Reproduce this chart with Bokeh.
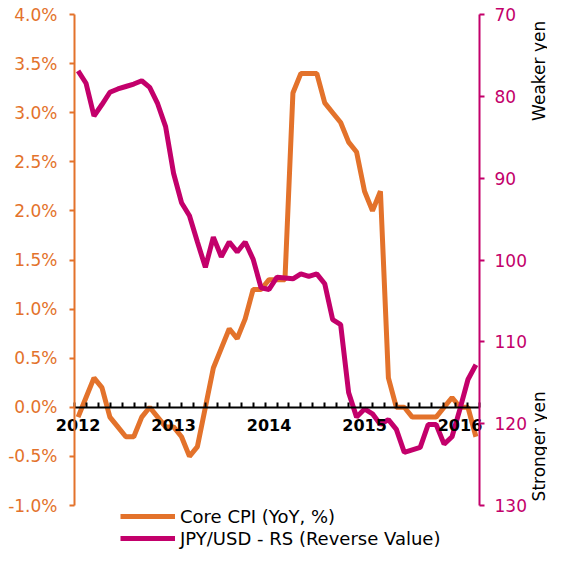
from math import pi
from bokeh.plotting import figure
from bokeh.models import (Range1d, LinearAxis, FixedTicker, PrintfTickFormatter,
                          Legend, LegendItem, Label)
from bokeh.embed import file_html
from bokeh.resources import INLINE

# ---- data (monthly, Jan 2012 .. Mar 2016) ----
months = [f"{y}-{m:02d}" for y in range(2012, 2017) for m in range(1, 13)][:51]
core_cpi = [-0.1, 0.1, 0.3, 0.2, -0.1, -0.2, -0.3, -0.3, -0.1, 0.0, -0.1, -0.2,
            -0.2, -0.3, -0.5, -0.4, 0.0, 0.4, 0.6, 0.8, 0.7, 0.9, 1.2, 1.2,
            1.3, 1.3, 1.3, 3.2, 3.4, 3.4, 3.4, 3.1, 3.0, 2.9, 2.7, 2.6,
            2.2, 2.0, 2.2, 0.3, 0.0, 0.0, -0.1, -0.1, -0.1, -0.1, 0.0, 0.1,
            0.0, 0.0, -0.3]
jpy_usd = [76.9, 78.4, 82.4, 81.0, 79.5, 79.1, 78.8, 78.5, 78.1, 78.9, 80.9, 83.7,
           89.4, 93.0, 94.6, 97.8, 100.9, 97.2, 99.6, 97.8, 99.0, 97.8, 99.9, 103.4,
           103.6, 102.1, 102.2, 102.3, 101.7, 102.0, 101.7, 102.9, 107.3, 107.9, 116.2, 119.2,
           118.2, 118.8, 120.1, 119.5, 120.7, 123.5, 123.2, 122.9, 120.1, 120.1, 122.5, 121.6,
           118.2, 114.6, 112.8]
year_labels = ["2012", "2013", "2014", "2015", "2016"]
cpi_ticks = [4.0, 3.5, 3.0, 2.5, 2.0, 1.5, 1.0, 0.5, 0.0, -0.5, -1.0]
jpy_ticks = [70, 80, 90, 100, 110, 120, 130]

x_idx = list(range(len(months)))
year_idx = [months.index(f"{y}-01") for y in year_labels]

ORANGE = "#E3722B"
PINK = "#C3006B"
FONT = "DejaVu Sans"

# ---- layout (pixels inside the figure) ----
W, H = 547, 549
AX_L, AX_R, AX_T, AX_B = 74, 479, 14, 505   # where the axes sit
xa0, xa1 = -0.45, 50.45                      # x data at left / right axis
cpi_lo, cpi_hi = -1.0, 4.0
jpy_top, jpy_bot = 70.0, 130.0

xs = (AX_R - AX_L) / (xa1 - xa0)
x_start, x_end = xa0 - AX_L / xs, xa1 + (W - AX_R) / xs
cs = (AX_B - AX_T) / (cpi_hi - cpi_lo)
y_start, y_end = cpi_lo - (H - AX_B) / cs, cpi_hi + AX_T / cs
js = (AX_B - AX_T) / (jpy_bot - jpy_top)
j_start, j_end = jpy_bot + (H - AX_B) / js, jpy_top - AX_T / js

p = figure(width=W, height=H, output_backend="svg", toolbar_location=None,
           x_range=Range1d(x_start, x_end), y_range=Range1d(y_start, y_end),
           x_axis_location=None, y_axis_location=None,
           min_border=0, min_border_left=0, min_border_right=0,
           min_border_top=0, min_border_bottom=0)
p.grid.visible = False
p.outline_line_color = None
p.extra_y_ranges = {"jpy": Range1d(j_start, j_end)}

r1 = p.line(x_idx, core_cpi, line_color=ORANGE, line_width=5)
r2 = p.line(x_idx, jpy_usd, line_color=PINK, line_width=5, y_range_name="jpy")

minor = [xa0 + k * (xa1 - xa0) / 34 for k in range(35)]
xaxis = LinearAxis(fixed_location=0, bounds=(xa0, xa1),
                   ticker=FixedTicker(ticks=year_idx, minor_ticks=minor),
                   major_label_overrides={i: s for i, s in zip(year_idx, year_labels)},
                   axis_line_color="black", axis_line_width=2,
                   major_tick_in=0, major_tick_out=0,
                   minor_tick_in=5, minor_tick_out=0,
                   minor_tick_line_color="black", minor_tick_line_width=2,
                   major_label_standoff=12,
                   major_label_text_font=FONT, major_label_text_font_style="bold",
                   major_label_text_font_size="16px", major_label_text_color="black")
p.add_layout(xaxis, "below")

yl = LinearAxis(fixed_location=xa0, bounds=(cpi_lo, cpi_hi),
                ticker=FixedTicker(ticks=cpi_ticks),
                formatter=PrintfTickFormatter(format="%.1f%%"),
                axis_line_color=ORANGE, axis_line_width=2,
                major_tick_line_color=ORANGE, major_tick_line_width=2,
                major_tick_in=0, major_tick_out=5, minor_tick_line_color=None,
                major_label_standoff=12,
                major_label_text_font=FONT, major_label_text_font_size="17px",
                major_label_text_color=ORANGE)
p.add_layout(yl, "left")

yr = LinearAxis(y_range_name="jpy", fixed_location=xa1, bounds=(jpy_top, jpy_bot),
                ticker=FixedTicker(ticks=jpy_ticks),
                axis_line_color=PINK, axis_line_width=2,
                major_tick_line_color=PINK, major_tick_line_width=2,
                major_tick_in=0, major_tick_out=5, minor_tick_line_color=None,
                major_label_standoff=10,
                major_label_text_font=FONT, major_label_text_font_size="17px",
                major_label_text_color=PINK)
p.add_layout(yr, "right")

lab_x = x_start + 538 / xs
for txt, yv in [("Weaker yen", 83.0), ("Stronger yen", 129.5)]:
    p.add_layout(Label(x=lab_x, y=yv, y_range_name="jpy", text=txt, angle=pi / 2,
                       text_align="left", text_baseline="middle",
                       text_font=FONT, text_font_size="17px", text_color="black"))

legend = Legend(items=[LegendItem(label="Core CPI (YoY, %)", renderers=[r1]),
                       LegendItem(label="JPY/USD - RS (Reverse Value)", renderers=[r2])],
                location=(120, 0), orientation="vertical",
                border_line_color=None, background_fill_alpha=0,
                glyph_width=55, glyph_height=22, label_height=22,
                spacing=0, padding=0, margin=0, label_standoff=5,
                label_text_font=FONT, label_text_font_size="18px",
                label_text_color="black")
p.add_layout(legend, "center")

open("out.html", "w").write(file_html(p, INLINE))
